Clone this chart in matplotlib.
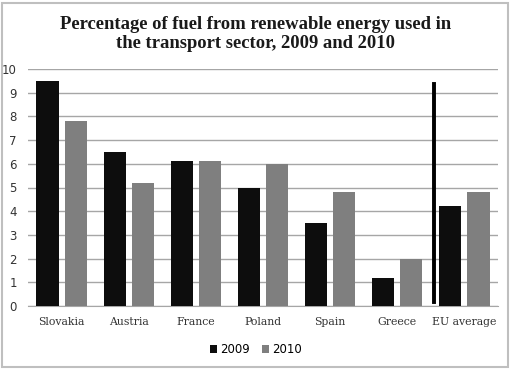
import matplotlib.pyplot as plt
import numpy as np

# values
countries = ['Slovakia', 'Austria', 'France', 'Poland', 'Spain', 'Greece', 'EU average']
y2009 = [9.5, 6.5, 6.1, 5.0, 3.5, 1.2, 4.2]
y2010 = [7.8, 5.2, 6.1, 6.0, 4.8, 2.0, 4.8]

fig = plt.figure(figsize=(5.12, 3.70), dpi=100)
ax = fig.add_axes([28 / 512, 64 / 370, 470 / 512, 237 / 370])

x = np.arange(len(countries))
w = 0.33
ax.bar(x - 0.21, y2009, w, color='#0d0d0d', label='2009', zorder=3)
ax.bar(x + 0.21, y2010, w, color='#7f7f7f', label='2010', zorder=3)

# separator line before the EU average
ax.plot([5.54, 5.54], [0.15, 9.35], color='black', lw=2.8, zorder=4)

ax.set_xlim(-0.5, len(countries) - 0.5)
ax.set_ylim(0, 10)
ax.set_yticks(range(0, 11))
ax.yaxis.grid(True, color='#a6a6a6', lw=1)
ax.set_axisbelow(True)
for s in ['top', 'right', 'left']:
    ax.spines[s].set_visible(False)
ax.spines['bottom'].set_color('#a6a6a6')
ax.tick_params(axis='both', length=0, labelsize=8.5, colors='#333333')
ax.tick_params(axis='y', pad=8)
ax.tick_params(axis='x', pad=8)
ax.set_xticks(x)
ax.set_xticklabels(countries, family='DejaVu Serif', fontsize=7.8)

fig.text(0.5, 0.908, 'Percentage of fuel from renewable energy used in\nthe transport sector, 2009 and 2010',
         ha='center', va='center', fontsize=13.4, fontweight='bold', family='Liberation Serif',
         linespacing=1.2, color='#1a1a1a')

fig.legend(loc='center', bbox_to_anchor=(0.5, 0.055), ncol=2, frameon=False,
           fontsize=8.5, handlelength=0.6, handleheight=0.6, handletextpad=0.3, columnspacing=1.0)

# light frame around the whole chart
fig.patches.append(plt.Rectangle((0.004, 0.008), 0.988, 0.984, transform=fig.transFigure,
                                 fill=False, ec='#bfbfbf', lw=1.5))

fig.savefig('out.png', dpi=100)
